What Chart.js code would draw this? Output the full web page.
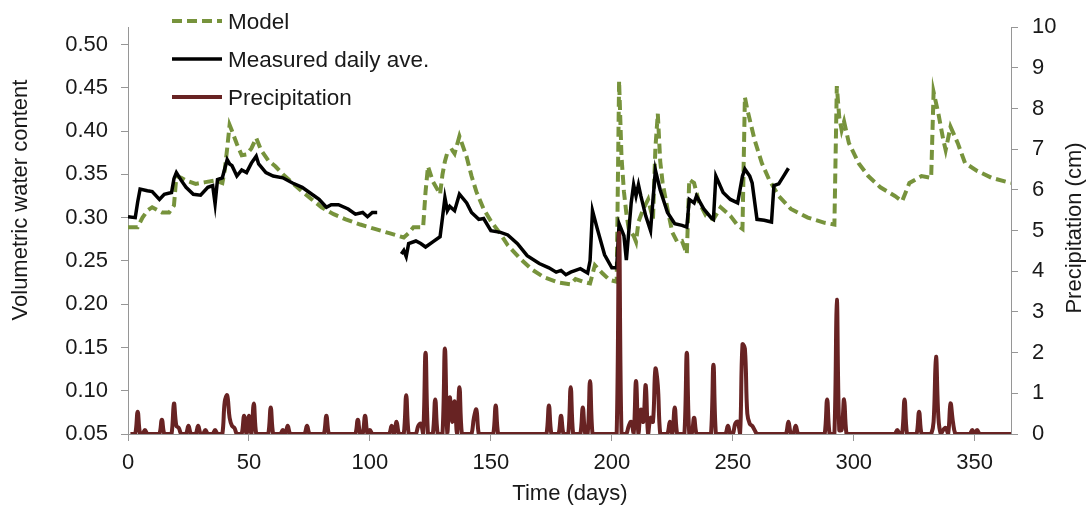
<!DOCTYPE html>
<html>
<head>
<meta charset="utf-8">
<script src="https://cdn.jsdelivr.net/npm/chart.js@4.4.1/dist/chart.umd.min.js"></script>
<style>
  html, body { margin: 0; padding: 0; background: #fff; }
  canvas { display: block; }
</style>
</head>
<body>
<canvas id="chart" width="1090" height="506"></canvas>
<script>
const modelDays = [0, 4, 6, 8, 10, 12, 14, 17, 19, 20, 22, 24, 28, 32, 36, 39, 40, 41, 42, 43, 45, 47, 49, 51, 53, 55, 58, 61, 64, 68, 72, 76, 80, 85, 90, 96, 102, 108, 114, 116, 118, 122, 123, 124, 126, 129, 130, 131, 132, 134, 135, 137, 140, 142, 144, 147, 150, 154, 157, 162, 167, 172, 178, 183, 185, 188, 191, 193, 196, 199, 202, 203, 204, 205, 206, 207, 209, 210, 211, 213, 215, 217, 218, 219, 220, 221, 223, 225, 227, 229, 231, 232, 234, 236, 239, 242, 245, 249, 252, 254, 255, 256, 259, 262, 265, 269, 274, 281, 288, 292, 293, 294, 295, 296, 298, 302, 306, 311, 317, 320, 323, 328, 332, 333, 335, 337, 338, 340, 343, 346, 351, 357, 365];
const modelVwc = [0.289, 0.289, 0.300, 0.308, 0.312, 0.309, 0.306, 0.306, 0.314, 0.348, 0.346, 0.343, 0.339, 0.341, 0.343, 0.340, 0.355, 0.380, 0.407, 0.400, 0.385, 0.372, 0.373, 0.380, 0.392, 0.378, 0.366, 0.359, 0.350, 0.340, 0.330, 0.321, 0.312, 0.304, 0.298, 0.292, 0.287, 0.282, 0.277, 0.282, 0.289, 0.289, 0.330, 0.359, 0.342, 0.327, 0.350, 0.365, 0.375, 0.378, 0.374, 0.394, 0.370, 0.348, 0.330, 0.310, 0.296, 0.281, 0.268, 0.253, 0.240, 0.231, 0.225, 0.223, 0.229, 0.226, 0.224, 0.245, 0.236, 0.228, 0.226, 0.458, 0.370, 0.330, 0.305, 0.287, 0.279, 0.272, 0.295, 0.310, 0.321, 0.298, 0.380, 0.420, 0.365, 0.340, 0.310, 0.283, 0.272, 0.273, 0.258, 0.344, 0.340, 0.318, 0.302, 0.298, 0.312, 0.302, 0.291, 0.287, 0.439, 0.425, 0.390, 0.363, 0.344, 0.325, 0.310, 0.300, 0.294, 0.292, 0.452, 0.416, 0.401, 0.411, 0.386, 0.363, 0.348, 0.335, 0.325, 0.319, 0.340, 0.348, 0.346, 0.445, 0.420, 0.390, 0.378, 0.405, 0.386, 0.363, 0.354, 0.346, 0.340];

// null at day 108 = no measurements between the two records
const measuredDays = [0, 3, 4, 5, 8, 10, 13, 15, 18, 19, 20, 22, 24, 27, 30, 33, 35, 36, 37, 39, 41, 42, 43, 45, 47, 49, 51, 53, 54, 57, 60, 64, 68, 72, 75, 79, 82, 84, 87, 91, 94, 97, 99, 101, 103, 108, 113, 114, 115, 116, 119, 121, 123, 126, 129, 130, 131, 132, 133, 135, 137, 140, 142, 145, 147, 150, 154, 157, 161, 165, 170, 174, 177, 179, 181, 183, 187, 190, 191, 192, 194, 197, 200, 202, 203, 205, 206, 208, 209, 210, 211, 212, 214, 216, 218, 220, 223, 226, 229, 231, 232, 234, 235, 238, 241, 242, 243, 246, 249, 252, 254, 255, 257, 258, 260, 263, 266, 267, 269, 271, 273];
const measuredVwc = [0.301, 0.300, 0.318, 0.333, 0.331, 0.330, 0.321, 0.327, 0.329, 0.345, 0.352, 0.343, 0.335, 0.327, 0.326, 0.335, 0.337, 0.316, 0.344, 0.346, 0.367, 0.362, 0.360, 0.348, 0.355, 0.352, 0.363, 0.371, 0.362, 0.352, 0.348, 0.346, 0.340, 0.335, 0.329, 0.321, 0.312, 0.315, 0.315, 0.310, 0.304, 0.306, 0.301, 0.306, 0.306, null, 0.258, 0.262, 0.255, 0.270, 0.273, 0.270, 0.266, 0.272, 0.278, 0.300, 0.323, 0.308, 0.313, 0.308, 0.327, 0.317, 0.306, 0.298, 0.299, 0.285, 0.283, 0.280, 0.270, 0.256, 0.247, 0.242, 0.237, 0.239, 0.234, 0.237, 0.241, 0.236, 0.250, 0.308, 0.287, 0.257, 0.242, 0.242, 0.293, 0.279, 0.251, 0.317, 0.338, 0.325, 0.338, 0.325, 0.302, 0.285, 0.355, 0.332, 0.306, 0.293, 0.291, 0.289, 0.321, 0.317, 0.325, 0.310, 0.300, 0.298, 0.348, 0.329, 0.321, 0.317, 0.348, 0.356, 0.348, 0.340, 0.298, 0.297, 0.295, 0.337, 0.339, 0.348, 0.357];

// rainy days only, every other day is 0 cm
const rainDays = [4, 7, 14, 19, 20, 21, 25, 29, 32, 36, 40, 41, 42, 43, 44, 48, 50, 52, 59, 64, 66, 74, 82, 95, 98, 100, 109, 111, 115, 120, 121, 123, 127, 131, 133, 134, 135, 137, 143, 144, 152, 174, 179, 183, 188, 191, 203, 207, 208, 210, 212, 213, 214, 216, 217, 218, 219, 224, 226, 231, 234, 242, 248, 251, 252, 254, 255, 256, 257, 258, 259, 273, 276, 289, 293, 294, 295, 296, 318, 321, 327, 333, 334, 335, 337, 338, 340, 341, 349, 351];
const rainCm = [0.55, 0.1, 0.35, 0.75, 0.2, 0.15, 0.2, 0.2, 0.1, 0.1, 0.8, 0.95, 0.4, 0.2, 0.15, 0.45, 0.45, 0.75, 0.65, 0.1, 0.2, 0.2, 0.45, 0.35, 0.45, 0.1, 0.2, 0.3, 0.95, 0.2, 0.25, 2.0, 0.85, 2.1, 0.9, 0.3, 0.8, 1.15, 0.4, 0.6, 0.7, 0.7, 0.45, 1.15, 0.65, 1.3, 4.95, 0.2, 0.3, 1.3, 0.6, 0.3, 1.2, 0.4, 0.3, 1.6, 1.2, 0.3, 0.65, 2.0, 0.4, 1.7, 0.2, 0.25, 0.3, 2.2, 2.1, 0.5, 0.25, 0.2, 0.1, 0.3, 0.2, 0.85, 3.3, 0.1, 0.1, 0.85, 0.1, 0.85, 0.55, 0.3, 1.9, 0.4, 0.1, 0.15, 0.75, 0.3, 0.1, 0.1];

const legendLabels = ["Model", "Measured daily ave.", "Precipitation"];

const green = "rgba(119, 147, 60, 1)";
const black = "rgba(0, 0, 0, 1)";
const darkRed = "rgba(104, 35, 35, 1)";
const axisGray = "rgba(150, 150, 150, 1)";
const textColor = "rgba(25, 25, 25, 1)";
const fontFamily = '"Liberation Sans", Arial, sans-serif';

const modelPoints = modelDays.map((d, i) => ({ x: d, y: modelVwc[i] }));
const measuredPoints = measuredDays.map((d, i) => ({ x: d, y: measuredVwc[i] }));
const rainPoints = [];
for (let day = 1; day <= 365; day++) {
  const i = rainDays.indexOf(day);
  rainPoints.push({ x: day, y: i >= 0 ? rainCm[i] : 0 });
}

const legendStyles = [
  { color: green, width: 4, dash: [10, 5] },
  { color: black, width: 3.5, dash: [] },
  { color: darkRed, width: 4, dash: [] },
];

const extras = {
  id: "extras",
  afterDraw(chart) {
    const ctx = chart.ctx;
    ctx.save();
    ctx.font = "22.5px " + fontFamily;
    ctx.fillStyle = textColor;

    legendLabels.forEach((label, i) => {
      const y = 21 + i * 38;
      const s = legendStyles[i];
      ctx.beginPath();
      ctx.setLineDash(s.dash);
      ctx.lineWidth = s.width;
      ctx.strokeStyle = s.color;
      ctx.moveTo(172, y);
      ctx.lineTo(222, y);
      ctx.stroke();
      ctx.setLineDash([]);
      ctx.textAlign = "left";
      ctx.textBaseline = "alphabetic";
      ctx.fillText(label, 228, y + 8);
    });

    ctx.font = "22px " + fontFamily;
    ctx.textAlign = "center";
    ctx.textBaseline = "middle";
    ctx.fillText("Time (days)", 570, 494);

    ctx.translate(21, 200);
    ctx.rotate(-Math.PI / 2);
    ctx.fillText("Volumetric water content", 0, 0);
    ctx.restore();

    ctx.save();
    ctx.font = "22px " + fontFamily;
    ctx.fillStyle = textColor;
    ctx.textAlign = "center";
    ctx.textBaseline = "middle";
    ctx.translate(1075, 228);
    ctx.rotate(-Math.PI / 2);
    ctx.fillText("Precipitation (cm)", 0, 0);
    ctx.restore();
  },
};

const tickFont = { family: fontFamily, size: 22 };

new Chart("chart", {
  type: "line",
  data: {
    datasets: [
      {
        label: legendLabels[2],
        data: rainPoints,
        yAxisID: "y2",
        borderColor: darkRed,
        borderWidth: 4,
        pointRadius: 0,
        tension: 0.4,
      },
      {
        label: legendLabels[1],
        data: measuredPoints,
        yAxisID: "y",
        borderColor: black,
        borderWidth: 3.5,
        pointRadius: 0,
        spanGaps: false,
      },
      {
        label: legendLabels[0],
        data: modelPoints,
        yAxisID: "y",
        borderColor: green,
        borderWidth: 4,
        borderDash: [10, 5],
        pointRadius: 0,
      },
    ],
  },
  options: {
    responsive: false,
    animation: false,
    layout: { padding: { top: 23, left: 0, right: 0, bottom: 0 } },
    plugins: {
      legend: { display: false },
      tooltip: { enabled: false },
    },
    scales: {
      x: {
        type: "linear",
        min: 0,
        max: 365,
        ticks: { stepSize: 50, includeBounds: false, font: tickFont, color: textColor, padding: 9 },
        grid: { drawOnChartArea: false, tickLength: 7, color: axisGray },
        border: { color: axisGray },
        afterFit: (scale) => { scale.height = 72; },
      },
      y: {
        position: "left",
        min: 0.05,
        max: 0.52,
        ticks: {
          stepSize: 0.05,
          includeBounds: false,
          font: tickFont,
          color: textColor,
          padding: 13,
          callback: (v) => v.toFixed(2),
        },
        grid: { drawOnChartArea: false, tickLength: 7, color: axisGray },
        border: { color: axisGray },
        afterFit: (scale) => { scale.width = 128; },
      },
      y2: {
        position: "right",
        min: 0,
        max: 10,
        ticks: { stepSize: 1, font: tickFont, color: textColor, padding: 14 },
        grid: { drawOnChartArea: false, tickLength: 7, color: axisGray },
        border: { color: axisGray },
        afterFit: (scale) => { scale.width = 79; },
      },
    },
  },
  plugins: [extras],
});
</script>
</body>
</html>
